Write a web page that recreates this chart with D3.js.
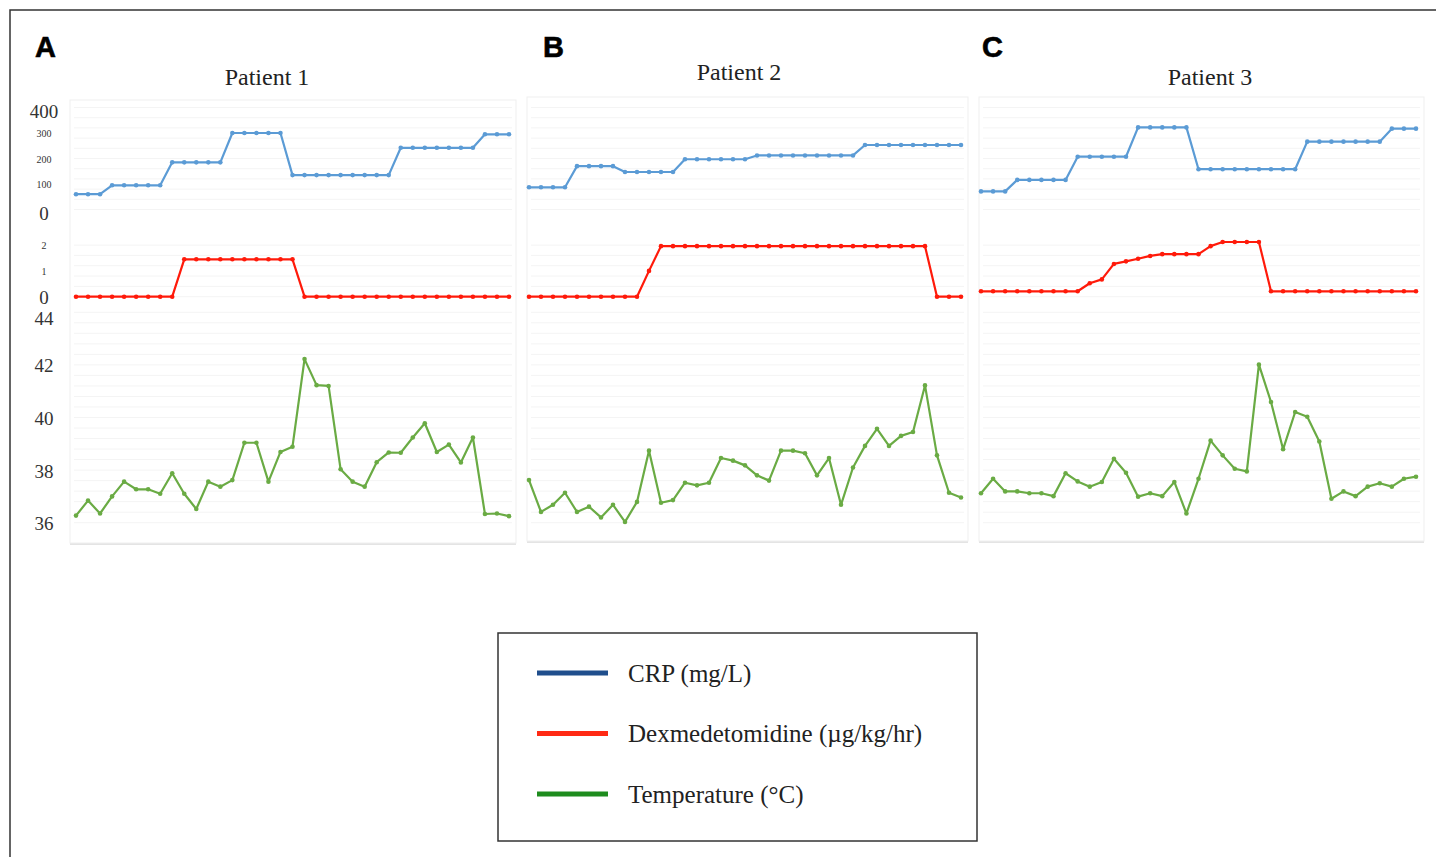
<!DOCTYPE html>
<html><head><meta charset="utf-8">
<script src="https://cdn.jsdelivr.net/npm/d3@7"></script>
<style>body{margin:0;background:#fff}svg{display:block}</style>
</head><body>
<svg id="chart" width="1436" height="857"></svg>
<script>
// ---- data ----
const timePoints = d3.range(1, 38);
const patients = ["Patient 1", "Patient 2", "Patient 3"];
const panelLetters = ["A", "B", "C"];
const crpTicks = [0, 100, 200, 300, 400];
const dexTicks = [0, 1, 2];
const tempTicks = [36, 38, 40, 42, 44];
const legendLabels = ["CRP (mg/L)", "Dexmedetomidine (\u00b5g/kg/hr)", "Temperature (\u00b0C)"];

const crpA = [60,60,60, 95,95,95,95,95, 185,185,185,185,185, 300,300,300,300,300,
  135,135,135,135,135,135,135,135,135, 242,242,242,242,242,242,242, 295,295,295];
const dexA = [0,0,0,0,0,0,0,0,0, 1.45,1.45,1.45,1.45,1.45,1.45,1.45,1.45,1.45,1.45,
  0,0,0,0,0,0,0,0,0,0,0,0,0,0,0,0,0,0];
const tempA = [36.27,36.84,36.35,37.0,37.56,37.27,37.27,37.1,37.88,37.1,36.52,37.56,37.37,37.62,
  39.04,39.04,37.56,38.69,38.89,42.22,41.23,41.2,38.03,37.56,37.37,38.3,38.67,38.66,39.24,39.78,
  38.69,38.97,38.29,39.24,36.33,36.35,36.25];

const crpB = [87,87,87,87, 170,170,170,170, 147,147,147,147,147, 197,197,197,197,197,197,
  212,212,212,212,212,212,212,212,212, 253,253,253,253,253,253,253,253,253];
const dexB = [0,0,0,0,0,0,0,0,0,0, 1.0,
  1.96,1.96,1.96,1.96,1.96,1.96,1.96,1.96,1.96,1.96,1.96,1.96,1.96,1.96,1.96,1.96,1.96,1.96,1.96,1.96,1.96,1.96,1.96,
  0,0,0];
const tempB = [37.62,36.41,36.68,37.14,36.41,36.61,36.2,36.68,36.03,36.79,38.74,36.76,36.86,37.52,
  37.42,37.52,38.46,38.36,38.18,37.8,37.6,38.74,38.74,38.64,37.8,38.46,36.68,38.1,38.92,39.57,
  38.92,39.3,39.45,41.22,38.56,37.14,36.96];

const crpC = [71,71,71, 116,116,116,116,116, 207,207,207,207,207, 322,322,322,322,322,
  158,158,158,158,158,158,158,158,158, 266,266,266,266,266,266,266, 317,317,317];
const dexC = [0.21,0.21,0.21,0.21,0.21,0.21,0.21,0.21,0.21, 0.52,0.67,1.27,1.37,1.47,1.58,
  1.65,1.65,1.65,1.65, 1.96, 2.12,2.12,2.12,2.12,
  0.21,0.21,0.21,0.21,0.21,0.21,0.21,0.21,0.21,0.21,0.21,0.21,0.21];
const tempC = [37.12,37.67,37.19,37.19,37.12,37.12,37.01,37.88,37.57,37.37,37.55,38.43,37.9,36.99,
  37.12,37.01,37.55,36.35,37.67,39.12,38.56,38.05,37.95,42.01,40.59,38.79,40.21,40.03,39.09,36.91,
  37.19,37.01,37.37,37.5,37.37,37.67,37.75];

// ---- layout ----
const svg = d3.select("#chart");
const serif = "'Liberation Serif', 'Times New Roman', serif";
const colors = {crp: "#5b9bd5", dex: "#ff1a0a", temp: "#6aab44"};
const legendColors = ["#1f4e8c", "#ff2a14", "#1e8c1e"];

// outer frame
svg.append("rect").attr("x", 10).attr("y", 10).attr("width", 1440).attr("height", 870)
  .attr("fill", "none").attr("stroke", "#333").attr("stroke-width", 1.5);

const panels = [
  {crp: crpA, dex: dexA, temp: tempA, bx: 70, by: 100, bw: 446, bh: 443, x0: 76, x1: 509, tx: 267, ty: 77, lx: 35},
  {crp: crpB, dex: dexB, temp: tempB, bx: 527, by: 97, bw: 441, bh: 444, x0: 529, x1: 961, tx: 739, ty: 72, lx: 543},
  {crp: crpC, dex: dexC, temp: tempC, bx: 979, by: 97, bw: 445, bh: 444, x0: 981, x1: 1416, tx: 1210, ty: 77, lx: 982}
];

const yCrp = d3.scaleLinear().domain([0, 400]).range([209.5, 107.5]);
const yDex = d3.scaleLinear().domain([0, 2]).range([296.7, 245.1]);
const yTemp = d3.scaleLinear().domain([36, 44]).range([522.7, 312.3]);

panels.forEach((p, i) => {
  const g = svg.append("g");
  g.append("rect").attr("x", p.bx).attr("y", p.by + 2).attr("width", p.bw).attr("height", p.bh)
    .attr("fill", "#e4e4e4");
  g.append("rect").attr("x", p.bx).attr("y", p.by).attr("width", p.bw).attr("height", p.bh)
    .attr("fill", "#fff").attr("stroke", "#efefef").attr("stroke-width", 1);

  const grid = [];
  d3.range(0, 420, 40).forEach(v => grid.push(yCrp(v)));
  d3.range(0, 2.01, 0.4).forEach(v => grid.push(yDex(v)));
  d3.range(36, 44.01, 0.4).forEach(v => grid.push(yTemp(v)));
  g.selectAll("line.grid").data(grid).join("line").attr("class", "grid")
    .attr("x1", p.bx + 4).attr("x2", p.bx + p.bw - 4)
    .attr("y1", d => d).attr("y2", d => d)
    .attr("stroke", "#f4f4f4").attr("stroke-width", 1);

  const x = d3.scaleLinear().domain([1, 37]).range([p.x0, p.x1]);
  const series = [
    {vals: p.crp, y: yCrp, c: colors.crp},
    {vals: p.dex, y: yDex, c: colors.dex},
    {vals: p.temp, y: yTemp, c: colors.temp}
  ];
  series.forEach(s => {
    const pts = timePoints.map((t, k) => [t, s.vals[k]]);
    g.append("path").datum(pts)
      .attr("fill", "none").attr("stroke", s.c).attr("stroke-width", 2.2)
      .attr("stroke-linejoin", "round")
      .attr("d", d3.line().x(d => x(d[0])).y(d => s.y(d[1])));
    g.selectAll(null).data(pts).join("circle")
      .attr("cx", d => x(d[0])).attr("cy", d => s.y(d[1])).attr("r", 2.3)
      .attr("fill", s.c);
  });

  svg.append("text").attr("x", p.tx).attr("y", p.ty).attr("text-anchor", "middle")
    .attr("dominant-baseline", "central")
    .attr("font-family", serif).attr("font-size", 24).attr("fill", "#222").text(patients[i]);
  svg.append("text").attr("x", p.lx).attr("y", 57)
    .attr("font-family", "'Liberation Sans', Arial, sans-serif").attr("font-weight", "bold")
    .attr("font-size", 29).attr("fill", "#000").attr("stroke", "#000").attr("stroke-width", 0.6)
    .text(panelLetters[i]);
});

// y axes (panel A only)
function drawAxis(scale, ticks, bigSet, topShift, extra) {
  const ax = svg.append("g").attr("transform", "translate(44,0)")
    .call(d3.axisLeft(scale).tickValues(ticks).tickFormat(d3.format("d")).tickSize(0).tickPadding(0));
  ax.select(".domain").remove();
  ax.selectAll("text")
    .attr("text-anchor", "middle").attr("x", 0)
    .attr("font-family", serif).attr("fill", "#333")
    .attr("font-size", d => bigSet.includes(d) ? 19 : 10)
    .attr("dy", d => (d === ticks[ticks.length - 1] ? topShift : 0) +
      (bigSet.includes(d) ? 6 + extra : 3.5));
}
drawAxis(yCrp, crpTicks, [0, 400], 0, 4);
drawAxis(yDex, dexTicks, [0], 0, 1);
drawAxis(yTemp, tempTicks, tempTicks, 5, 1);

// legend
const legend = svg.append("g");
legend.append("rect").attr("x", 498).attr("y", 633).attr("width", 479).attr("height", 208)
  .attr("fill", "#fff").attr("stroke", "#333").attr("stroke-width", 1.5);
const ly = d3.scalePoint().domain(legendLabels).range([673, 794]);
legendLabels.forEach((lab, i) => {
  legend.append("line").attr("x1", 537).attr("x2", 608).attr("y1", ly(lab)).attr("y2", ly(lab))
    .attr("stroke", legendColors[i]).attr("stroke-width", 5);
  legend.append("text").attr("x", 628).attr("y", ly(lab)).attr("dominant-baseline", "central")
    .attr("font-family", serif).attr("font-size", 25).attr("fill", "#222").text(lab);
});
</script>
</body></html>
